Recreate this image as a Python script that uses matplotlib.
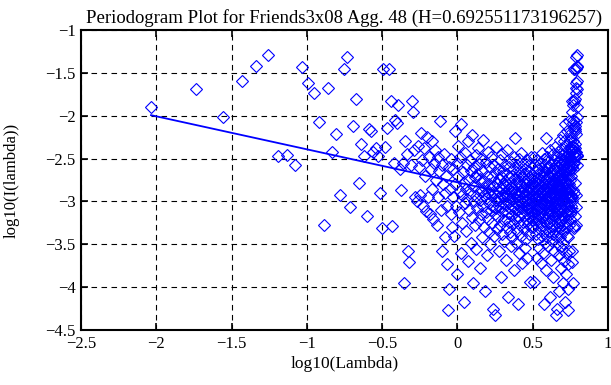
import numpy as np
import matplotlib
matplotlib.use("Agg")
import matplotlib.pyplot as plt

# ---- data ----
n_series = 681                      # length used for the Fourier frequencies
hurst = 0.692551173196257
fit_intercept = -2.777

# log10 periodogram values for frequency indices k = 1..340
periodogram_low = [
    -1.90, -1.69, -2.01, -1.59, -1.42, -1.29, -2.47, -2.46, -2.58, -1.43,
    -1.62, -1.73, -2.07, -3.27, -1.68, -2.42, -2.21, -2.93, -1.45, -1.32,
    -3.07, -2.12, -1.80, -2.78, -2.33, -2.47, -3.17, -2.15, -2.18, -2.42,
    -2.38, -2.47, -2.90, -3.31, -1.46, -2.36, -2.14, -1.45, -1.83, -3.29,
    -2.55, -2.05, -2.09, -1.88, -2.62, -2.87, -2.55, -3.95, -2.30, -2.45,
    -3.58, -3.71, -2.58, -1.83, -1.96, -2.40, -2.95, -3.00, -2.35, -2.60,
    -2.92, -2.20, -2.52, -3.05, -2.38, -2.70, -3.11, -2.25, -2.95, -2.48,
    -3.15, -2.62, -2.30, -2.85, -3.20, -2.55, -2.40, -2.75, -3.27, -2.95,
    -2.48, -2.65, -2.06, -3.10, -2.58, -3.58, -2.80, -2.45, -2.90, -3.42,
    -2.70, -3.05, -3.73, -4.27, -2.60, -4.02, -2.85, -3.15, -2.50, -3.30,
]
periodogram_mid = [
    -2.95, -2.62, -3.40, -2.18, -2.80, -3.05, -2.55, -3.85, -2.70, -2.35,
    -3.12, -2.88, -2.48, -3.60, -2.10, -2.92, -3.25, -2.66, -4.17, -2.78,
    -3.02, -2.44, -2.85, -3.35, -2.58, -2.97, -2.30, -3.70, -2.75, -3.10,
    -2.52, -2.90, -3.48, -2.64, -2.22, -3.18, -2.82, -3.95, -2.60, -3.00,
    -2.72, -3.28, -2.46, -2.94, -3.55, -2.68, -3.08, -2.38, -2.86, -3.22,
    -2.56, -3.78, -2.98, -2.74, -3.15, -2.50, -2.88, -3.42, -2.65, -3.05,
    -2.28, -2.92, -3.30, -2.76, -4.05, -2.84, -3.12, -2.54, -2.96, -3.62,
    -2.70, -3.20, -2.42, -2.90, -3.36, -2.80, -3.02, -2.60, -3.50, -2.86,
    -3.10, -2.48, -2.94, -3.25, -2.72, -4.26, -2.82, -3.05, -2.58, -3.40,
    -2.90, -3.15, -2.66, -4.33, -2.98, -3.08, -2.36, -3.32, -2.78, -3.00,
    -2.62, -3.18, -2.88, -3.58, -2.74, -2.95, -3.28, -2.52, -3.06, -2.84,
    -3.88, -2.70, -3.12, -2.92, -2.45, -3.38, -2.80, -3.02, -2.64, -3.22,
]
periodogram_high = [
    -2.96, -3.46, -2.76, -3.10, -2.58, -2.90, -3.68, -2.82, -3.04, -2.68,
    -3.30, -2.94, -2.40, -3.14, -2.86, -4.12, -2.72, -3.00, -3.24, -2.60,
    -2.92, -3.36, -2.78, -3.08, -2.54, -3.52, -2.88, -3.16, -2.70, -2.98,
    -3.42, -2.62, -3.06, -2.84, -3.26, -2.48, -2.96, -3.80, -2.74, -3.12,
    -2.26, -2.90, -3.20, -2.66, -3.02, -3.48, -2.80, -2.94, -3.34, -2.58,
    -3.10, -2.86, -4.20, -2.72, -3.04, -2.50, -3.18, -2.92, -3.60, -2.78,
    -3.00, -2.64, -3.28, -2.88, -3.08, -2.44, -3.40, -2.82, -2.97, -3.14,
    -2.70, -3.72, -2.90, -3.02, -2.56, -3.24, -2.84, -3.06, -2.68, -3.32,
    -2.94, -3.16, -2.76, -3.54, -2.86, -3.00, -2.62, -3.20, -2.92, -3.44,
    -2.80, -3.10, -2.52, -3.04, -2.88, -3.66, -2.74, -2.98, -3.26, -2.84,
    -3.08, -2.66, -3.38, -2.90, -3.02, -2.58, -3.18, -2.82, -3.94, -2.96,
    -2.72, -3.12, -2.48, -3.30, -2.86, -3.06, -2.78, -3.22, -2.94, -3.00,
]

x_ticks = [-2.5, -2, -1.5, -1, -0.5, 0, 0.5, 1]
x_tick_labels = ["\u22122.5", "\u22122", "\u22121.5", "\u22121", "\u22120.5", "0", "0.5", "1"]
y_ticks = [-4.5, -4, -3.5, -3, -2.5, -2, -1.5, -1]
y_tick_labels = ["\u22124.5", "\u22124", "\u22123.5", "\u22123", "\u22122.5", "\u22122", "\u22121.5", "\u22121"]

title = "Periodogram Plot for Friends3x08 Agg. 48 (H=%s)" % repr(hurst)

# ---- assemble series (periodogram is symmetric about pi) ----
half = periodogram_low + periodogram_mid + periodogram_high
log_I = np.array(half + half[::-1])
k = np.arange(1, len(log_I) + 1)
log_lambda = np.log10(2 * np.pi * k / n_series)

slope = 1 - 2 * hurst
fit_x = np.array([log_lambda.min(), log_lambda.max()])
fit_y = fit_intercept + slope * fit_x

# ---- figure ----
plt.rcParams['font.family'] = ['Liberation Serif', 'DejaVu Serif']
fig = plt.figure(figsize=(6.11, 3.85), dpi=100)
ax = fig.add_axes([0.1326, 0.1429, 0.995 - 0.1326, 0.922 - 0.1429])

ax.plot(log_lambda, log_I, linestyle='none', marker='D', markersize=6.6,
        markerfacecolor='none', markeredgecolor=(0, 0, 1), markeredgewidth=0.8)
ax.plot(fit_x, fit_y, color=(0, 0, 1), linewidth=1.3)

ax.set_xlim(-2.5, 1)
ax.set_ylim(-4.5, -1)
ax.set_xticks(x_ticks)
ax.set_xticklabels(x_tick_labels)
ax.set_yticks(y_ticks)
ax.set_yticklabels(y_tick_labels)
ax.grid(True, color='black', linestyle=(0, (5, 4)), linewidth=0.8)
ax.tick_params(direction='in', top=True, right=True, length=5, width=1.2,
               labelsize=12, pad=4)
for s in ax.spines.values():
    s.set_linewidth(1.5)

ax.set_xlabel("log10(Lambda)", fontsize=12.5, labelpad=3)
ax.set_ylabel("log10(I(lambda))", fontsize=12)
ax.yaxis.set_label_coords(-0.117, 0.5)
ax.set_title(title, fontsize=13.5, pad=5)

fig.savefig("out.png", dpi=100)
